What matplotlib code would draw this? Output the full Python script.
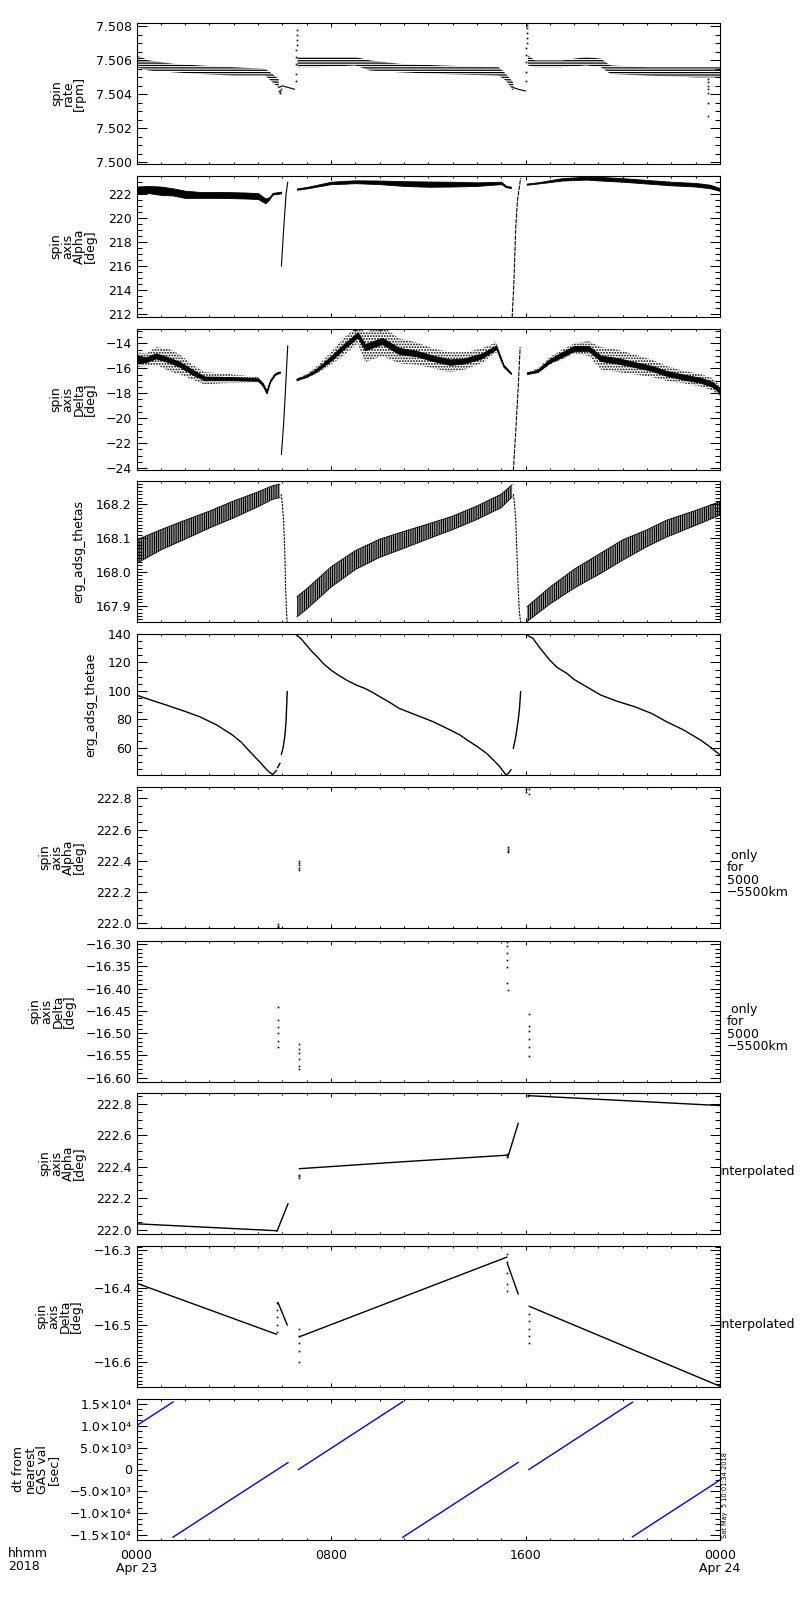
import numpy as np
import matplotlib
matplotlib.use('Agg')
import matplotlib.pyplot as plt
from matplotlib.ticker import MultipleLocator, FuncFormatter, FixedLocator

plt.rcParams['font.family'] = ['DejaVu Sans']
plt.rcParams['hatch.linewidth'] = 0.9

# ------------------------------------------------------------------
# DATA  (time in hours from 2018-04-23 00:00 UT)
# ------------------------------------------------------------------
# Panel 1 : spin rate [rpm]  (quantised band: upper / lower envelope)
rate_t1 = [0.0, 0.5, 1.5, 2.6, 4.0, 5.3, 5.6, 5.85]
rate_up1 = [7.5063, 7.5060, 7.5058, 7.5057, 7.5056, 7.5055, 7.5052, 7.5049]
rate_lo1 = [7.5056, 7.5054, 7.5053, 7.5052, 7.5051, 7.5051, 7.5047, 7.5044]
rate_tail1_t = [5.85, 6.0, 6.5]
rate_tail1_v = [7.5044, 7.5045, 7.5043]
rate_dip1_t = [5.88, 5.9, 5.92, 5.95]
rate_dip1_v = [7.5042, 7.5041, 7.5042, 7.5043]
rate_spike1_t = [6.56, 6.57, 6.57, 6.58, 6.58, 6.59, 6.59, 6.6, 6.6]
rate_spike1_v = [7.5048, 7.5052, 7.5058, 7.5062, 7.5066, 7.5069, 7.5072, 7.5075, 7.5078]
rate_t2 = [6.62, 7.5, 9.0, 9.6, 10.8, 12.5, 14.9, 15.2, 15.5]
rate_up2 = [7.5062, 7.5062, 7.5062, 7.5060, 7.5058, 7.5057, 7.5056, 7.5052, 7.5047]
rate_lo2 = [7.5056, 7.5056, 7.5057, 7.5054, 7.5053, 7.5052, 7.5051, 7.5048, 7.5042]
rate_tail2_t = [15.5, 15.7, 16.0]
rate_tail2_v = [7.5044, 7.5043, 7.5042]
rate_spike2_t = [16.02, 16.03, 16.03, 16.04, 16.04, 16.05, 16.05, 16.06, 16.06, 16.07]
rate_spike2_v = [7.5048, 7.5053, 7.5059, 7.5063, 7.5067, 7.5070, 7.5073, 7.5076, 7.5079, 7.5081]
rate_t3 = [16.1, 16.4, 17.5, 18.5, 19.1, 19.5, 21.0, 23.0, 24.0]
rate_up3 = [7.5063, 7.5060, 7.5060, 7.5062, 7.5061, 7.5057, 7.5056, 7.5056, 7.5056]
rate_lo3 = [7.5057, 7.5056, 7.5056, 7.5057, 7.5056, 7.5052, 7.5051, 7.5050, 7.5050]
rate_drop_t = [23.5, 23.5, 23.5, 23.5, 23.5, 23.5, 23.5]
rate_drop_v = [7.5049, 7.5047, 7.5045, 7.5043, 7.5041, 7.5035, 7.5027]

# Panel 2 : spin axis Alpha [deg]  (centre / half width of noisy band)
alp_t1 = [0.0, 0.5, 1.0, 1.5, 2.0, 2.6, 3.5, 4.5, 5.0, 5.3, 5.45, 5.6, 5.95]
alp_c1 = [222.35, 222.4, 222.3, 222.2, 222.0, 221.95, 221.95, 221.9, 221.85, 221.45, 221.65, 222.05, 222.15]
alp_w1 = [0.3, 0.3, 0.35, 0.3, 0.3, 0.25, 0.25, 0.25, 0.25, 0.2, 0.1, 0.07, 0.07]
alp_j1_t = [5.96, 6.05, 6.15, 6.22]
alp_j1_v = [216.0, 219.0, 222.0, 223.0]
alp_t2 = [6.6, 7.0, 7.5, 8.0, 8.5, 9.0, 10.0, 11.0, 12.0, 13.0, 14.0, 15.0, 15.2, 15.4]
alp_c2 = [222.44, 222.55, 222.75, 222.95, 223.0, 223.05, 223.0, 222.9, 222.85, 222.85, 222.85, 222.95, 222.65, 222.58]
alp_w2 = [0.06, 0.06, 0.08, 0.1, 0.12, 0.12, 0.15, 0.2, 0.22, 0.2, 0.15, 0.1, 0.06, 0.06]
alp_j2_t = [15.45, 15.52, 15.6, 15.67, 15.8]
alp_j2_v = [211.7, 214.5, 219.3, 221.5, 223.35]
alp_t3 = [16.05, 16.5, 17.0, 17.5, 18.5, 19.1, 20.0, 21.0, 22.0, 23.0, 23.6, 24.0]
alp_c3 = [222.85, 222.95, 223.1, 223.25, 223.35, 223.3, 223.2, 223.05, 222.9, 222.8, 222.65, 222.4]
alp_w3 = [0.05, 0.05, 0.08, 0.1, 0.12, 0.15, 0.15, 0.15, 0.15, 0.15, 0.15, 0.12]

# Panel 3 : spin axis Delta [deg]  (centre, core half width, scatter half width)
dl_t1 = [0.0, 0.4, 0.8, 1.3, 1.8, 2.3, 2.8, 3.5, 4.3, 5.0, 5.2, 5.35, 5.5, 5.7, 5.9]
dl_c1 = [-15.3, -15.3, -15.0, -15.3, -15.7, -16.3, -16.8, -16.8, -16.85, -16.9, -17.3, -17.9, -17.0, -16.45, -16.3]
dl_k1 = [0.3, 0.2, 0.2, 0.2, 0.2, 0.2, 0.15, 0.12, 0.12, 0.1, 0.1, 0.12, 0.08, 0.06, 0.06]
dl_s1 = [0.6, 0.5, 0.7, 0.9, 0.8, 0.6, 0.5, 0.4, 0.3, 0.2, 0.2, 0.2, 0.1, 0.08, 0.08]
dl_j1_t = [5.96, 6.05, 6.12, 6.22]
dl_j1_v = [-22.9, -20.5, -18.0, -14.2]
dl_t2 = [6.58, 7.0, 7.4, 8.0, 8.5, 9.1, 9.4, 10.1, 10.8, 11.5, 12.2, 12.9, 13.5, 14.2, 14.8, 15.1, 15.4]
dl_c2 = [-16.9, -16.6, -16.15, -15.2, -14.3, -13.3, -14.3, -13.8, -14.6, -14.8, -15.2, -15.5, -15.4, -15.0, -14.3, -15.8, -16.4]
dl_k2 = [0.06, 0.08, 0.12, 0.18, 0.2, 0.2, 0.25, 0.25, 0.25, 0.22, 0.22, 0.22, 0.2, 0.2, 0.15, 0.08, 0.06]
dl_s2 = [0.08, 0.15, 0.3, 0.5, 0.7, 0.7, 1.2, 1.2, 1.0, 0.9, 0.8, 0.8, 0.7, 0.6, 0.4, 0.15, 0.08]
dl_j2_t = [15.5, 15.6, 15.7, 15.78]
dl_j2_v = [-24.2, -21.0, -17.5, -14.3]
dl_t3 = [16.06, 16.5, 17.0, 17.5, 18.0, 18.6, 19.1, 19.8, 20.5, 21.2, 21.8, 22.5, 23.2, 23.7, 24.0]
dl_c3 = [-16.4, -16.2, -15.4, -14.9, -14.4, -14.4, -15.2, -15.4, -15.7, -16.0, -16.4, -16.7, -16.95, -17.3, -17.8]
dl_k3 = [0.06, 0.1, 0.15, 0.2, 0.2, 0.2, 0.22, 0.22, 0.2, 0.2, 0.2, 0.2, 0.2, 0.2, 0.18]
dl_s3 = [0.08, 0.2, 0.3, 0.4, 0.4, 0.6, 0.9, 0.9, 0.8, 0.7, 0.6, 0.5, 0.5, 0.5, 0.4]

# Panel 4 : erg_adsg_thetas (centre / half width of oscillating band)
ths_t1 = [0.0, 1.0, 2.0, 3.0, 4.0, 5.0, 5.6, 5.9]
ths_c1 = [168.06, 168.095, 168.125, 168.155, 168.185, 168.215, 168.235, 168.24]
ths_w1 = [0.035, 0.03, 0.028, 0.025, 0.025, 0.022, 0.02, 0.02]
ths_j1_t = [5.95, 6.0, 6.05, 6.1, 6.13, 6.17, 6.2]
ths_j1_v = [168.23, 168.2, 168.15, 168.06, 167.96, 167.88, 167.85]
ths_t2 = [6.6, 7.0, 8.0, 9.0, 10.0, 11.0, 12.0, 13.0, 14.0, 15.0, 15.45]
ths_c2 = [167.897, 167.92, 167.985, 168.035, 168.07, 168.095, 168.12, 168.145, 168.175, 168.21, 168.24]
ths_w2 = [0.03, 0.03, 0.03, 0.028, 0.027, 0.025, 0.022, 0.02, 0.02, 0.02, 0.018]
ths_j2_t = [15.5, 15.55, 15.6, 15.65, 15.7, 15.75, 15.8]
ths_j2_v = [168.23, 168.2, 168.15, 168.05, 167.95, 167.88, 167.85]
ths_t3 = [16.06, 17.0, 18.0, 19.1, 20.0, 21.0, 21.8, 23.0, 24.0]
ths_c3 = [167.875, 167.93, 167.98, 168.026, 168.065, 168.1, 168.128, 168.16, 168.188]
ths_w3 = [0.022, 0.025, 0.028, 0.03, 0.03, 0.025, 0.025, 0.022, 0.02]

# Panel 5 : erg_adsg_thetae
the_t1 = [0.0, 0.6, 1.23, 2.0, 2.6, 3.3, 3.95, 4.3, 4.6, 4.9, 5.1, 5.3, 5.45, 5.6, 5.68, 5.75]
the_v1 = [97.0, 93.5, 90.0, 85.5, 81.8, 76.0, 68.9, 64.0, 58.4, 53.0, 49.5, 45.5, 43.0, 41.2, 42.5, 44.0]
the_b1_t = [5.8, 5.9]
the_b1_v = [46.0, 49.0]
the_j1_t = [5.96, 6.03, 6.1, 6.15, 6.2]
the_j1_v = [55.5, 60.0, 68.0, 78.0, 99.4]
the_t2 = [6.58, 6.75, 7.0, 7.2, 7.4, 7.7, 8.0, 8.35, 8.7, 9.05, 9.4, 9.75, 10.1, 10.45, 10.8,
          11.5, 12.2, 12.9, 13.3, 13.6, 14.0, 14.4, 14.7, 14.95, 15.1, 15.2, 15.3, 15.4]
the_v2 = [139.2, 137.0, 132.0, 128.0, 124.5, 119.0, 114.6, 110.5, 107.0, 104.0, 101.7, 98.5, 95.0, 91.5, 87.7,
          83.0, 78.3, 72.5, 69.0, 65.4, 61.0, 56.0, 51.0, 46.5, 43.0, 40.8, 42.0, 44.5]
the_j2_t = [15.5, 15.6, 15.7, 15.75, 15.8]
the_j2_v = [59.6, 67.7, 79.4, 87.0, 99.4]
the_t3 = [16.06, 16.3, 16.6, 17.0, 17.3, 17.7, 18.0, 18.4, 18.8, 19.1, 19.8, 20.5, 21.2, 21.8, 22.5, 23.2, 23.6, 24.0]
the_v3 = [139.2, 137.0, 130.0, 121.6, 116.5, 112.3, 108.0, 104.0, 100.0, 97.0, 92.5, 88.8, 84.0, 78.3, 72.5, 65.4, 60.5, 54.9]

# Panel 6 : spin axis Alpha only for 5000-5500 km
a55_t = [5.8, 5.8, 5.8, 6.68, 6.68, 6.68, 6.68, 6.69, 15.29, 15.29, 15.3, 15.3, 16.04, 16.04, 16.15, 16.15]
a55_v = [221.975, 221.985, 221.995, 222.34, 222.355, 222.37, 222.385, 222.40,
         222.455, 222.465, 222.475, 222.49, 222.84, 222.86, 222.83, 222.86]

# Panel 7 : spin axis Delta only for 5000-5500 km
d55_t = [5.8, 5.8, 5.8, 5.8, 5.8, 5.8, 6.68, 6.68, 6.68, 6.68, 6.68, 6.68,
         15.25, 15.25, 15.25, 15.25, 15.25, 15.25, 15.26, 16.15, 16.15, 16.15, 16.15, 16.15, 16.15]
d55_v = [-16.442, -16.471, -16.487, -16.50, -16.517, -16.532, -16.525, -16.535, -16.545, -16.559, -16.574, -16.580,
         -16.295, -16.305, -16.32, -16.335, -16.351, -16.388, -16.404, -16.457, -16.483, -16.495, -16.513, -16.532, -16.551]

# Panel 8 : spin axis Alpha interpolated
ai_seg_t = [[0.0, 5.75], [5.78, 6.23], [6.7, 10.84, 15.25], [15.27, 15.7], [16.13, 24.0]]
ai_seg_v = [[222.037, 221.993], [221.99, 222.164], [222.388, 222.431, 222.474], [222.46, 222.676], [222.853, 222.79]]
ai_dot_t = [6.68, 6.68, 6.68, 15.25, 15.25, 16.12, 16.12, 16.12]
ai_dot_v = [222.33, 222.34, 222.35, 222.46, 222.48, 222.85, 222.86, 222.87]

# Panel 9 : spin axis Delta interpolated
di_seg_t = [[0.0, 5.75], [5.82, 6.2], [6.7, 15.23], [15.26, 15.7], [16.15, 24.0]]
di_seg_v = [[-16.388, -16.525], [-16.44, -16.50], [-16.532, -16.318], [-16.336, -16.417], [-16.45, -16.665]]
di_dot_t = [5.78] * 5 + [6.68] * 5 + [15.25] * 5 + [16.13] * 5
di_dot_v = [-16.44, -16.46, -16.48, -16.50, -16.52,
            -16.51, -16.53, -16.55, -16.57, -16.60,
            -16.31, -16.33, -16.36, -16.39, -16.41,
            -16.47, -16.49, -16.51, -16.53, -16.548]

# Panel 10 : dt from nearest GAS val [sec]  (linear segments: start/end)
dt_t0 = [0.0, 1.5, 6.66, 10.95, 16.14, 20.4]
dt_t1 = [1.5, 6.23, 10.95, 15.7, 20.4, 24.0]
dt_v0 = [10000, -15450, 0, -15480, 0, -15370]
dt_v1 = [15400, 1580, 15480, 1620, 15370, -2400]

dt_ticks = [-15000, -10000, -5000, 0, 5000, 10000, 15000]
dt_ticklabels = ['\u22121.5\u00d710\u2074', '\u22121.0\u00d710\u2074', '\u22125.0\u00d710\u00b3', '0',
                 '5.0\u00d710\u00b3', '1.0\u00d710\u2074', '1.5\u00d710\u2074']

x_ticks = [0, 8, 16, 24]
x_ticklabels = ['0000\nApr 23', '0800', '1600', '0000\nApr 24']

ylabels = ['spin\nrate\n[rpm]', 'spin\naxis\nAlpha\n[deg]', 'spin\naxis\nDelta\n[deg]',
           'erg_adsg_thetas', 'erg_adsg_thetae', 'spin\naxis\nAlpha\n[deg]',
           'spin\naxis\nDelta\n[deg]', 'spin\naxis\nAlpha\n[deg]', 'spin\naxis\nDelta\n[deg]',
           'dt from\nnearest\nGAS val\n[sec]']

# ------------------------------------------------------------------
# LAYOUT
# ------------------------------------------------------------------
W, H = 800, 1600
fig = plt.figure(figsize=(8, 16), dpi=100)
tops = [23, 176, 329, 481, 634, 787, 941, 1093, 1246, 1399]
PH = 141
L, R = 136.5, 720.0
label_right = [86, 97, 97, 85, 97, 86, 76, 86, 83, 60]

ylims = [(7.4999, 7.5082), (211.75, 223.53), (-24.16, -12.84), (167.852, 168.269),
         (40.8, 140.0), (221.97, 222.872), (-16.61, -16.293), (221.972, 222.87),
         (-16.667, -16.288), (-16100, 16100)]
majors = [0.002, 2, 2, 0.1, 20, 0.2, 0.05, 0.2, 0.1, None]
minors = [0.0005, 0.5, 0.5, 0.01, 5, 0.05, 0.01, 0.05, 0.01, 1250]
fmts = ['%.3f', '%d', '%d', '%.1f', '%d', '%.1f', '%.2f', '%.1f', '%.1f', None]

FS = 9
axes = []
for i, tp in enumerate(tops):
    ax = fig.add_axes([L / W, 1 - (tp + PH) / H, (R - L) / W, PH / H])
    axes.append(ax)
    ax.set_xlim(0, 24)
    ax.set_ylim(*ylims[i])
    ax.xaxis.set_major_locator(FixedLocator(x_ticks))
    ax.xaxis.set_minor_locator(MultipleLocator(1))
    if majors[i] is not None:
        ax.yaxis.set_major_locator(MultipleLocator(majors[i]))
        f = fmts[i]
        ax.yaxis.set_major_formatter(FuncFormatter(lambda v, p, f=f: (f % v).replace('-', '\u2212')))
    else:
        ax.yaxis.set_major_locator(FixedLocator(dt_ticks))
        ax.set_yticklabels(dt_ticklabels)
    ax.yaxis.set_minor_locator(MultipleLocator(minors[i]))
    ax.tick_params(axis='y', which='major', direction='in', left=True, right=True,
                   length=7.2, width=0.75, labelsize=FS, pad=3.5)
    ax.tick_params(axis='y', which='minor', direction='in', left=True, right=True,
                   length=3.6, width=0.75)
    ax.tick_params(axis='x', which='major', direction='in', top=True, bottom=True,
                   length=3.0, width=0.75, labelsize=FS)
    ax.tick_params(axis='x', which='minor', direction='in', top=True, bottom=True,
                   length=1.5, width=0.75)
    for s in ax.spines.values():
        s.set_linewidth(0.8)
    if i < 9:
        ax.set_xticklabels([])
    else:
        ax.set_xticklabels(x_ticklabels, linespacing=0.95)
        ax.tick_params(axis='x', which='major', pad=6.5)
    cy = tp + PH / 2
    fig.text(label_right[i] / W, 1 - cy / H, ylabels[i], rotation=90, ha='right', va='center',
             fontsize=FS, linespacing=0.85, multialignment='center')

K = 'black'
LW = 0.8

# Panel 1
ax = axes[0]
for t, lo, up in [(rate_t1, rate_lo1, rate_up1), (rate_t2, rate_lo2, rate_up2), (rate_t3, rate_lo3, rate_up3)]:
    ax.fill_between(t, lo, up, facecolor='none', edgecolor=K, hatch='-------', linewidth=0)
ax.plot(rate_tail1_t, rate_tail1_v, color=K, lw=LW)
ax.plot(rate_tail2_t, rate_tail2_v, color=K, lw=LW)
for t, v in [(rate_dip1_t, rate_dip1_v), (rate_spike1_t, rate_spike1_v),
             (rate_spike2_t, rate_spike2_v), (rate_drop_t, rate_drop_v)]:
    ax.plot(t, v, ls='none', marker='s', ms=1.2, mew=0, color=K)

# Panel 2
ax = axes[1]
for t, c, w in [(alp_t1, alp_c1, alp_w1), (alp_t2, alp_c2, alp_w2), (alp_t3, alp_c3, alp_w3)]:
    c = np.asarray(c); w = np.asarray(w)
    ax.fill_between(t, c - w, c + w, facecolor=K, edgecolor=K, linewidth=0.6)
ax.plot(alp_j1_t, alp_j1_v, color=K, lw=LW)
ax.plot(alp_j2_t, alp_j2_v, color=K, lw=LW, ls=(0, (4, 1)))

# Panel 3
ax = axes[2]
for t, c, k, s in [(dl_t1, dl_c1, dl_k1, dl_s1), (dl_t2, dl_c2, dl_k2, dl_s2), (dl_t3, dl_c3, dl_k3, dl_s3)]:
    c = np.asarray(c); k = np.asarray(k); s = np.asarray(s)
    ax.fill_between(t, c - s, c + s, facecolor='none', edgecolor=K, hatch='......', linewidth=0)
    ax.fill_between(t, c - k, c + k, facecolor=K, edgecolor=K, linewidth=0.6)
ax.plot(dl_j1_t, dl_j1_v, color=K, lw=LW)
ax.plot(dl_j2_t, dl_j2_v, color=K, lw=LW, ls=(0, (4, 1)))

# Panel 4
ax = axes[3]
for t, c, w in [(ths_t1, ths_c1, ths_w1), (ths_t2, ths_c2, ths_w2), (ths_t3, ths_c3, ths_w3)]:
    c = np.asarray(c); w = np.asarray(w)
    ax.fill_between(t, c - w, c + w, facecolor='none', edgecolor=K, hatch='|||||||||', linewidth=0)
    ax.plot(t, c - w, color=K, lw=0.6)
    ax.plot(t, c + w, color=K, lw=0.6)
ax.plot(ths_j1_t, ths_j1_v, color=K, lw=LW, ls=(0, (2, 1)))
ax.plot(ths_j2_t, ths_j2_v, color=K, lw=LW, ls=(0, (2, 1)))

# Panel 5
ax = axes[4]
for t, v in [(the_t1, the_v1), (the_b1_t, the_b1_v), (the_j1_t, the_j1_v),
             (the_t2, the_v2), (the_j2_t, the_j2_v), (the_t3, the_v3)]:
    ax.plot(t, v, color=K, lw=1.0)

# Panel 6, 7
axes[5].plot(a55_t, a55_v, ls='none', marker='s', ms=1.2, mew=0, color=K)
axes[6].plot(d55_t, d55_v, ls='none', marker='s', ms=1.2, mew=0, color=K)

# Panel 8
ax = axes[7]
for t, v in zip(ai_seg_t, ai_seg_v):
    ax.plot(t, v, color=K, lw=1.0)
ax.plot(ai_dot_t, ai_dot_v, ls='none', marker='s', ms=1.2, mew=0, color=K)

# Panel 9
ax = axes[8]
for t, v in zip(di_seg_t, di_seg_v):
    ax.plot(t, v, color=K, lw=1.0)
ax.plot(di_dot_t, di_dot_v, ls='none', marker='s', ms=1.2, mew=0, color=K)

# Panel 10
ax = axes[9]
for a, b, c, d in zip(dt_t0, dt_t1, dt_v0, dt_v1):
    ax.plot([a, b], [c, d], color='#0000ff', lw=1.0)

# side annotations
for i in (5, 6):
    cy = tops[i] + PH / 2
    fig.text(727 / W, 1 - (cy - 9) / H, ' only\nfor\n5000\n\u22125500km', ha='left', va='top',
             fontsize=FS, linespacing=0.95)
for i in (7, 8):
    cy = tops[i] + PH / 2
    fig.text(719 / W, 1 - (cy + 8) / H, 'interpolated', ha='left', va='center', fontsize=FS)

fig.text(724.5 / W, 1 - 1538 / H, 'Sat May  5 10:01:34 2018', rotation=90, ha='center', va='bottom',
         fontsize=4.8)
fig.text(8 / W, 1 - 1547 / H, 'hhmm\n2018', ha='left', va='top', fontsize=FS, linespacing=0.95)

fig.savefig('out.png', dpi=100, facecolor='white')
